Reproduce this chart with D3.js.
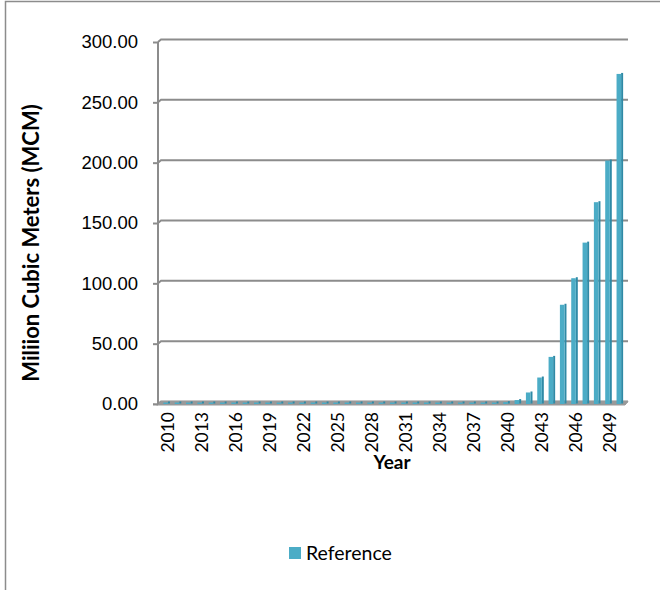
<!DOCTYPE html>
<html>
<head>
<meta charset="utf-8">
<script src="https://cdn.jsdelivr.net/npm/d3@7"></script>
<style>
  html, body { margin: 0; padding: 0; background: #fff; }
  svg { display: block; font-family: Lato, 'Open Sans', sans-serif; }
</style>
</head>
<body>
<svg id="chart" width="660" height="590"></svg>
<script>
// data
const years = d3.range(2010, 2051)
const reference = [
  0, 0, 0, 0, 0, 0, 0, 0, 0, 0,
  0, 0, 0, 0, 0, 0, 0, 0, 0, 0,
  0, 0, 0, 0, 0, 0, 0, 0, 0, 0,
  0.3, 2, 8.3, 20.7, 37.8, 81, 103, 132.5, 166, 200.5, 272.3
]
const yTicks = [0, 50, 100, 150, 200, 250, 300]
const xTickYears = d3.range(2010, 2051, 3)
const seriesName = 'Reference'

const svg = d3.select('#chart')
const depth = 2.5 // 3d offset of back wall

// outer chart border (runs off the page right/bottom)
svg.append('rect')
  .attr('x', 5.5).attr('y', 1.5)
  .attr('width', 700).attr('height', 700)
  .attr('fill', 'none').attr('stroke', '#8c8c8c').attr('stroke-width', 1.5)

const xScale = d3.scaleBand()
  .domain(years)
  .range([161, 625.5])
  .paddingInner(0.42)
  .paddingOuter(0.21)

// front axis scale and back wall scale
const yFront = d3.scaleLinear().domain([0, 300]).range([404, 42])
const yBack = (v) => yFront(v) - depth

const bounds = svg.append('g')

// gridlines on back wall
const grid = bounds.append('g')
grid.selectAll('path')
  .data(yTicks)
  .join('path')
  .attr('d', (d) => `M158,${yFront(d)}L${161},${yBack(d)}L628,${yBack(d)}`)
  .attr('fill', 'none')
  .attr('stroke', '#8c8c8c')
  .attr('stroke-width', 2)

// floor
bounds.append('path')
  .attr('d', `M153,${yFront(0)}L158,${yFront(0)}L${161},${yBack(0)}L628,${yBack(0)}L625,${yFront(0) + 1}L158,${yFront(0) + 1}Z`)
  .attr('fill', '#999')
  .attr('stroke', '#999')
  .attr('stroke-width', 1)

// left axis
const yAxis = bounds.append('g')
  .attr('transform', 'translate(158,0)')
  .call(d3.axisLeft(yFront).tickValues(yTicks).tickSize(5).tickPadding(15).tickFormat(d3.format('.2f')))
yAxis.select('.domain').attr('stroke', '#8c8c8c').attr('stroke-width', 2)
  .attr('d', `M0,${yFront(300)}V${yFront(0)}`)
yAxis.selectAll('.tick line').attr('stroke', '#8c8c8c').attr('stroke-width', 2)
yAxis.selectAll('.tick text')
  .attr('fill', '#000')
  .style('font-size', '18.5px')

// bars, front face + darker side face
const bars = bounds.append('g')
  .selectAll('g')
  .data(years.map((y, i) => ({ year: y, value: reference[i] })))
  .join('g')
const bw = xScale.bandwidth()
bars.append('rect')
  .attr('x', (d) => xScale(d.year) + bw - 2)
  .attr('y', (d) => Math.min(yBack(d.value), yFront(0) - 2.5))
  .attr('width', 2)
  .attr('height', (d) => Math.max(yFront(0) - yBack(d.value), 2.5) - 0.5)
  .attr('fill', '#2f8aa6')
bars.append('rect')
  .attr('x', (d) => xScale(d.year))
  .attr('y', (d) => Math.min(yBack(d.value) + 1, yFront(0) - 1.5))
  .attr('width', bw - 2)
  .attr('height', (d) => Math.max(yFront(0) - yBack(d.value) - 1, 1.5))
  .attr('fill', '#4bacc6')

// bottom axis labels
const xAxis = bounds.append('g')
xAxis.selectAll('text')
  .data(xTickYears)
  .join('text')
  .attr('transform', (d) => `translate(${xScale(d) + bw / 2 + 1},412) rotate(-90)`)
  .attr('text-anchor', 'end')
  .attr('dy', '0.35em')
  .style('font-size', '17.5px')
  .text((d) => d)

// axis titles
svg.append('text')
  .attr('x', 392).attr('y', 469)
  .attr('text-anchor', 'middle')
  .style('font-size', '19px').style('font-weight', 'bold')
  .text('Year')

svg.append('text')
  .attr('transform', 'translate(39,243) rotate(-90)')
  .attr('text-anchor', 'middle')
  .style('font-size', '22px').style('font-weight', 'bold')
  .text('Miliion Cubic Meters (MCM)')

// legend
const legend = svg.append('g').attr('transform', 'translate(289,547)')
legend.append('rect').attr('width', 12).attr('height', 12).attr('fill', '#4bacc6')
legend.append('text')
  .attr('x', 17).attr('y', 6).attr('dy', '0.35em')
  .style('font-size', '19.5px')
  .text(seriesName)
</script>
</body>
</html>
